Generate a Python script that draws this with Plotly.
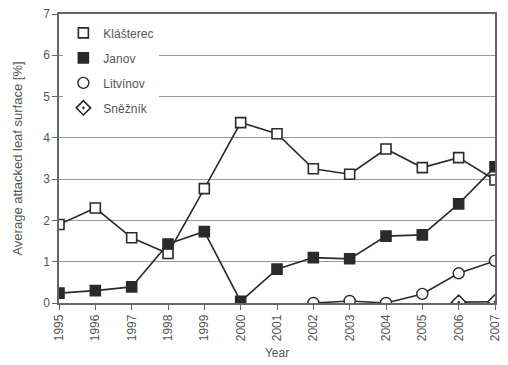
import plotly.graph_objects as go

years = list(range(1995, 2008))
klasterec = [1.9, 2.3, 1.58, 1.2, 2.77, 4.37, 4.1, 3.25, 3.12, 3.73, 3.28, 3.52, 2.98]
janov = [0.24, 0.3, 0.39, 1.43, 1.73, 0.04, 0.82, 1.1, 1.07, 1.62, 1.65, 2.4, 3.3]
litvinov_years = [2002, 2003, 2004, 2005, 2006, 2007]
litvinov = [0.0, 0.05, 0.0, 0.22, 0.72, 1.02]
sneznik_years = [2006, 2007]
sneznik = [0.02, 0.03]

names = ["Klášterec", "Janov", "Litvínov", "Sněžník"]
INK = "#2a2a2a"
GRAY = "#555555"

series = [
    (years, klasterec, dict(symbol="square", size=10, color="white", line=dict(color=INK, width=1.6))),
    (years, janov, dict(symbol="square", size=10, color=INK, line=dict(color=INK, width=1.6))),
    (litvinov_years, litvinov, dict(symbol="circle", size=11, color="white", line=dict(color=INK, width=1.4))),
    (sneznik_years, sneznik, dict(symbol="diamond-dot", size=11, color="white", line=dict(color=INK, width=1.6))),
]

fig = go.Figure()
for (xs, ys, mk), nm in zip(series, names):
    fig.add_trace(go.Scatter(x=xs, y=ys, mode="lines+markers", name=nm, showlegend=False,
                             line=dict(color=INK, width=1.6), marker=mk, cliponaxis=True))
for (xs, ys, mk), nm in zip(series, names):
    fig.add_trace(go.Scatter(x=[None], y=[None], mode="markers", name=nm, legendgroup=nm,
                             marker=mk, showlegend=True))

fig.update_layout(
    width=508, height=365,
    margin=dict(l=59, r=6, t=14, b=62),
    paper_bgcolor="white", plot_bgcolor="white",
    font=dict(family="Liberation Sans, Arial, sans-serif", size=12, color=GRAY),
    legend=dict(x=0.01, y=0.985, xanchor="left", yanchor="top", bgcolor="white",
                font=dict(size=12, color=GRAY), tracegroupgap=6, traceorder="grouped",
                itemwidth=30),
    xaxis=dict(range=[1995, 2007], tickmode="array", tickvals=years,
               ticktext=[str(y) for y in years], tickangle=-90,
               showgrid=False, zeroline=False, showline=True, mirror=True,
               linecolor="#666", linewidth=1.5, ticks="outside", ticklen=5,
               tickcolor="#666", tickwidth=1.2, tickfont=dict(size=12),
               title=dict(text="Year", standoff=8, font=dict(size=12, color=GRAY))),
    yaxis=dict(range=[0, 7], tickvals=[0, 1, 2, 3, 4, 5, 6, 7],
               showgrid=True, gridcolor="#9a9a9a", gridwidth=1.2,
               zeroline=False, showline=True, mirror=True,
               linecolor="#666", linewidth=1.5, ticks="outside", ticklen=5,
               tickcolor="#666", tickwidth=1.2, tickfont=dict(size=12),
               title=dict(text="Average attacked leaf surface [%]", standoff=18,
                          font=dict(size=13, color=GRAY))),
)

fig.write_html("out.html")
